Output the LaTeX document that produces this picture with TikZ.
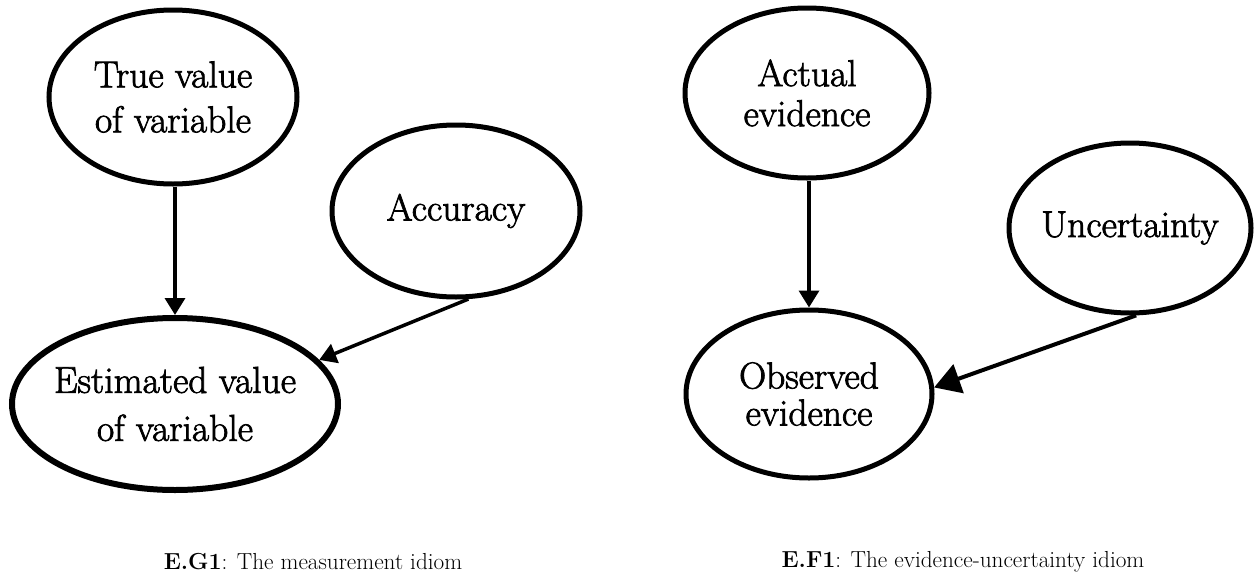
\documentclass[tikz,border=0pt]{standalone}
\usepackage{fontspec}
\newfontfamily\nodefont[FakeBold=2]{Latin Modern Roman}
\usetikzlibrary{shapes.geometric,arrows.meta}
\begin{document}
\begin{tikzpicture}[x=1pt,y=-1pt,
  var/.style={draw=black,line width=5pt,ellipse,inner xsep=-60pt,inner ysep=-30pt,align=center,
    font=\nodefont\fontsize{37.5}{46}\selectfont},
  lines/.style={font=\nodefont\fontsize{37.5}{#1}\selectfont},
  link/.style={line width=3.5pt,-{Triangle[width=20pt,length=17pt]}},
  biglink/.style={line width=4pt,-{Triangle[width=30pt,length=26pt]}},
  captext/.style={font=\fontsize{23.2}{28}\selectfont}]
\useasboundingbox (0,0) rectangle (1254,573);

% measurement idiom
\node[var,lines=45,minimum width=248pt,minimum height=174pt] (true) at (173,97) {True value\\of variable};
\node[var,minimum width=248pt,minimum height=172pt] (acc) at (456,211) {Accuracy};
\node[var,lines=48,line width=6pt,minimum width=326pt,minimum height=172pt] (est) at (175,404) {Estimated value\\of variable};
\draw[link] (est.north |- true.south) -- (est.north);
\draw[link] (acc.-82) -- (est.17);
\node[captext] (capG) at (313,562) {\textbf{E.G1}: The measurement idiom};

% evidence-uncertainty idiom
\node[var,lines=40,minimum width=244pt,minimum height=170pt] (act) at (807,93) {Actual\\evidence};
\node[var,minimum width=242pt,minimum height=170pt] (unc) at (1130,228) {Uncertainty};
\node[var,lines=37,minimum width=246pt,minimum height=168pt] (obs) at (809,394) {Observed\\evidence};
\draw[link] (obs.north |- act.south) -- (obs.north);
\draw[biglink] (unc.-86) -- (obs.3);
\node[captext] (capF) at (963,562) {\textbf{E.F1}: The evidence-uncertainty idiom};
\end{tikzpicture}
\end{document}
